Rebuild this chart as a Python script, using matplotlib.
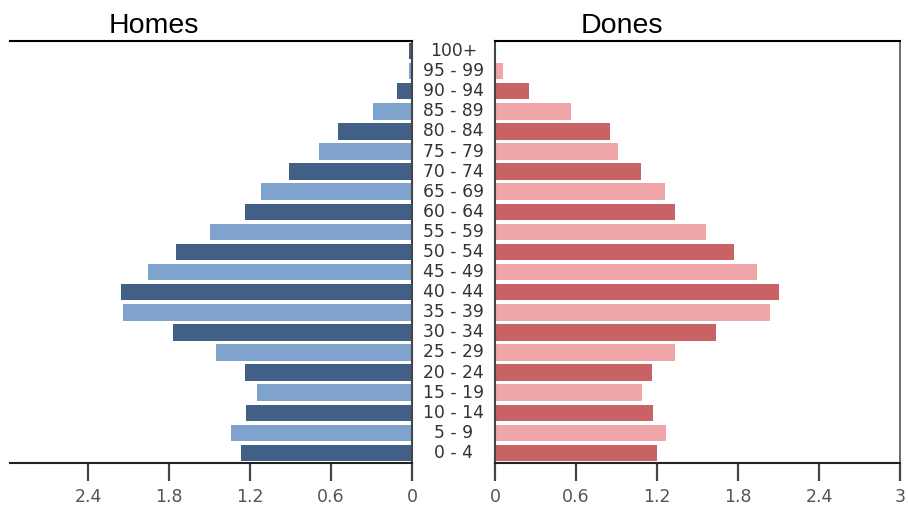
import matplotlib
matplotlib.use("Agg")
import matplotlib.pyplot as plt
import matplotlib.transforms as mtransforms

plt.rcParams["font.family"] = ["DejaVu Sans"]

age_groups = ["0 - 4", "5 - 9", "10 - 14", "15 - 19", "20 - 24", "25 - 29", "30 - 34",
              "35 - 39", "40 - 44", "45 - 49", "50 - 54", "55 - 59", "60 - 64", "65 - 69",
              "70 - 74", "75 - 79", "80 - 84", "85 - 89", "90 - 94", "95 - 99", "100+"]
homes = [1.27, 1.34, 1.23, 1.15, 1.24, 1.45, 1.77, 2.14, 2.16, 1.96, 1.75,
         1.50, 1.24, 1.12, 0.91, 0.69, 0.55, 0.29, 0.11, 0.02, 0.02]
dones = [1.20, 1.27, 1.17, 1.09, 1.16, 1.33, 1.64, 2.04, 2.10, 1.94, 1.77,
         1.56, 1.33, 1.26, 1.08, 0.91, 0.85, 0.56, 0.25, 0.06, 0.01]
left_ticks = [0, 0.6, 1.2, 1.8, 2.4]
right_ticks = [0, 0.6, 1.2, 1.8, 2.4, 3]
tick_labels_left = ["0", "0.6", "1.2", "1.8", "2.4"]
tick_labels_right = ["0", "0.6", "1.2", "1.8", "2.4", "3"]

male_dark, male_light = "#426087", "#7fa3cc"
fem_dark, fem_light = "#c86264", "#f0a5a8"

W, H = 908, 512
fig = plt.figure(figsize=(W / 100, H / 100), dpi=100)

def fx(px):
    return px / W

def fy(py):
    return 1 - py / H

axL = fig.add_axes([fx(10), fy(463), fx(412) - fx(10), fy(41) - fy(463)])
axR = fig.add_axes([fx(495), fy(463), fx(900) - fx(495), fy(41) - fy(463)])

ypos = list(range(len(age_groups)))
colL = [male_dark if i % 2 == 0 else male_light for i in ypos]
colR = [fem_dark if i % 2 == 0 else fem_light for i in ypos]

axL.barh(ypos, homes, height=0.82, color=colL)
axR.barh(ypos, dones, height=0.82, color=colR)

axL.set_xlim(2.98, 0)
axR.set_xlim(0, 3.0)
for ax in (axL, axR):
    ax.set_ylim(-0.5, len(age_groups) - 0.5)
    ax.set_yticks([])
    ax.tick_params(axis="x", direction="out", length=13, width=1.6, color="#444444",
                   labelsize=12.5, labelcolor="#555555", pad=5)
    ax.spines["top"].set_linewidth(1.5)
    ax.spines["top"].set_color("black")
    ax.spines["bottom"].set_linewidth(1.5)
    ax.spines["bottom"].set_color("#222222")

axL.set_xticks(left_ticks)
axL.set_xticklabels(tick_labels_left)
axR.set_xticks(right_ticks)
axR.set_xticklabels(tick_labels_right)

axL.spines["left"].set_visible(False)
axL.spines["right"].set_color("#444444")
axL.spines["right"].set_linewidth(1.5)
axR.spines["left"].set_color("#444444")
axR.spines["left"].set_linewidth(1.5)
axR.spines["right"].set_color("#555555")
axR.spines["right"].set_linewidth(1.2)

trans = mtransforms.blended_transform_factory(fig.transFigure, axL.transData)
for i, lab in enumerate(age_groups):
    fig.text(fx(453.5), i, lab, transform=trans, ha="center", va="center",
             fontsize=12.3, color="#333333")

fig.text(fx(154), fy(26), "Homes", ha="center", va="center", fontsize=20.5,
         family="Liberation Sans", color="black")
fig.text(fx(622), fy(26), "Dones", ha="center", va="center", fontsize=20.5,
         family="Liberation Sans", color="black")

fig.savefig("out.png", dpi=100)
